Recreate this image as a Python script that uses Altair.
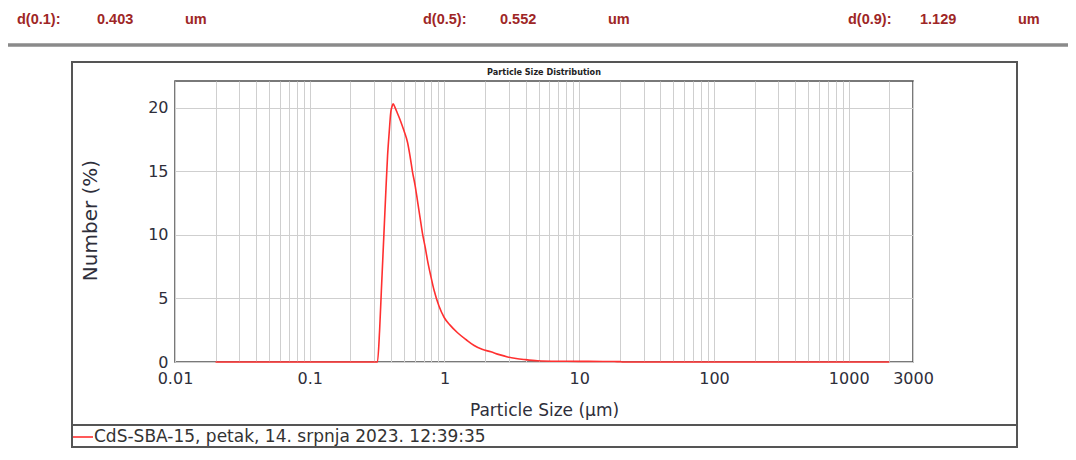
import altair as alt
import pandas as pd

# ---------------- data ----------------
sizes_um = [0.02, 0.1, 0.2, 0.318, 0.330, 0.340, 0.355, 0.367, 0.378, 0.389, 0.399,
            0.408, 0.416, 0.430, 0.450, 0.474, 0.500, 0.531, 0.555, 0.578, 0.605,
            0.630, 0.660, 0.687, 0.720, 0.748, 0.790, 0.839, 0.910, 0.995, 1.10,
            1.25, 1.45, 1.66, 1.90, 2.21, 2.55, 2.94, 3.40, 3.90, 4.90, 7.0,
            10.0, 15.0, 20.0, 21.0, 100.0, 2000.0]
number_pct = [0.0, 0.0, 0.0, 0.0, 2.5, 5.6, 10.0, 13.4, 16.2, 18.1, 19.6,
              20.1, 20.3, 20.0, 19.5, 18.9, 18.2, 17.3, 16.2, 15.0, 13.9,
              12.7, 11.3, 10.1, 9.0, 8.0, 6.8, 5.6, 4.4, 3.5, 2.9,
              2.3, 1.75, 1.3, 1.0, 0.8, 0.58, 0.4, 0.28, 0.2, 0.1, 0.06,
              0.05, 0.04, 0.03, 0.0, 0.0, 0.0]

x_grid_values = [0.01, 0.02, 0.03, 0.04, 0.05, 0.06, 0.07, 0.08, 0.09,
                 0.1, 0.2, 0.3, 0.4, 0.5, 0.6, 0.7, 0.8, 0.9,
                 1, 2, 3, 4, 5, 6, 7, 8, 9,
                 10, 20, 30, 40, 50, 60, 70, 80, 90,
                 100, 200, 300, 400, 500, 600, 700, 800, 900,
                 1000, 2000, 3000]
x_label_values = [0.01, 0.1, 1, 10, 100, 1000, 3000]
x_label_texts = ["0.01", "0.1", "1", "10", "100", "1000", "3000"]
y_tick_values = [0, 5, 10, 15, 20]

header_items = ["d(0.1):", "0.403", "um", "d(0.5):", "0.552", "um", "d(0.9):", "1.129", "um"]
series_name = "CdS-SBA-15, petak, 14. srpnja 2023. 12:39:35"
chart_title = "Particle Size Distribution"
x_title = "Particle Size (\u00b5m)"
y_title = "Number (%)"

df = pd.DataFrame({"size": sizes_um, "number": number_pct})

# ---------------- layout ----------------
W, H = 738, 281
FONT = "DejaVu Sans"
TXT = "#2e2e3a"

label_expr = ""
for v, t in zip(x_label_values, x_label_texts):
    label_expr += f"datum.value == {v} ? '{t}' : "
label_expr += "''"

curve = alt.Chart(df).mark_line(color="#ff3030", strokeWidth=1.6, interpolate="monotone").encode(
    x=alt.X("size:Q",
            scale=alt.Scale(type="log", domain=[0.01, 3000], nice=False),
            axis=alt.Axis(values=x_grid_values, labelExpr=label_expr,
                          grid=True, gridColor="#cfcfcf", gridWidth=1,
                          ticks=False, tickSize=0, domain=False,
                          labelFlush=False, labelOverlap=False,
                          labelPadding=8, labelFont=FONT, labelFontSize=16,
                          labelColor=TXT,
                          title=x_title, titleFont=FONT, titleFontSize=17,
                          titleFontWeight="normal", titleColor=TXT,
                          titleX=369, titleY=40, titleAlign="center",
                          titleBaseline="top")),
    y=alt.Y("number:Q",
            scale=alt.Scale(domain=[0, 22.1], nice=False),
            axis=alt.Axis(values=y_tick_values,
                          grid=True, gridColor="#cfcfcf", gridWidth=1,
                          ticks=False, tickSize=0, domain=False,
                          labelPadding=7, labelFont=FONT, labelFontSize=16,
                          labelColor=TXT,
                          title=y_title, titleFont=FONT, titleFontSize=20,
                          titleFontWeight="normal", titleColor=TXT,
                          titleX=-85, titleY=139, titleAngle=270,
                          titleAlign="center", titleBaseline="middle")),
)


def label(text, x, y, size, color, weight="normal", font=FONT, align="left"):
    return alt.Chart(pd.DataFrame({"t": [text]})).mark_text(
        align=align, baseline="middle", font=font, fontSize=size,
        fontWeight=weight, color=color
    ).encode(x=alt.value(x), y=alt.value(y), text="t:N")


header_x = [-158, -78, 10, 248, 325, 433, 673, 745, 843]
layers = [curve]
for txt, hx in zip(header_items, header_x):
    layers.append(label(txt, hx, -61, 14.5, "#9e2626", weight="bold",
                        font="Liberation Sans"))

# header separator line
layers.append(alt.Chart(pd.DataFrame({"a": [0]})).mark_rule(
    color="#8a8a8a", strokeWidth=3.5).encode(
    x=alt.value(-167), x2=alt.value(893), y=alt.value(-36)))

# outer frame
layers.append(alt.Chart(pd.DataFrame({"a": [0]})).mark_rect(
    fillOpacity=0, stroke="#555555", strokeWidth=2).encode(
    x=alt.value(-103), x2=alt.value(842), y=alt.value(-19), y2=alt.value(366)))

# legend divider
layers.append(alt.Chart(pd.DataFrame({"a": [0]})).mark_rule(
    color="#555555", strokeWidth=2).encode(
    x=alt.value(-103), x2=alt.value(842), y=alt.value(344)))

# legend symbol
layers.append(alt.Chart(pd.DataFrame({"a": [0]})).mark_rule(
    color="#ff3030", strokeWidth=1.6).encode(
    x=alt.value(-102), x2=alt.value(-82), y=alt.value(356)))
layers.append(label(series_name, -81, 356, 17, "#333333"))

# chart title
layers.append(label(chart_title, 369, -9, 9, "#222222", weight="bold",
                    font="DejaVu Sans Condensed", align="center"))

chart = alt.layer(*layers).properties(
    width=W, height=H,
    padding={"left": 167, "top": 73, "right": 155, "bottom": 86},
    autosize=alt.AutoSizeParams(type="none"),
    background="white",
).configure_view(stroke="#4d4d4d", strokeWidth=1.5)

chart.save("out.html", embed_options={"renderer": "svg", "actions": False})
